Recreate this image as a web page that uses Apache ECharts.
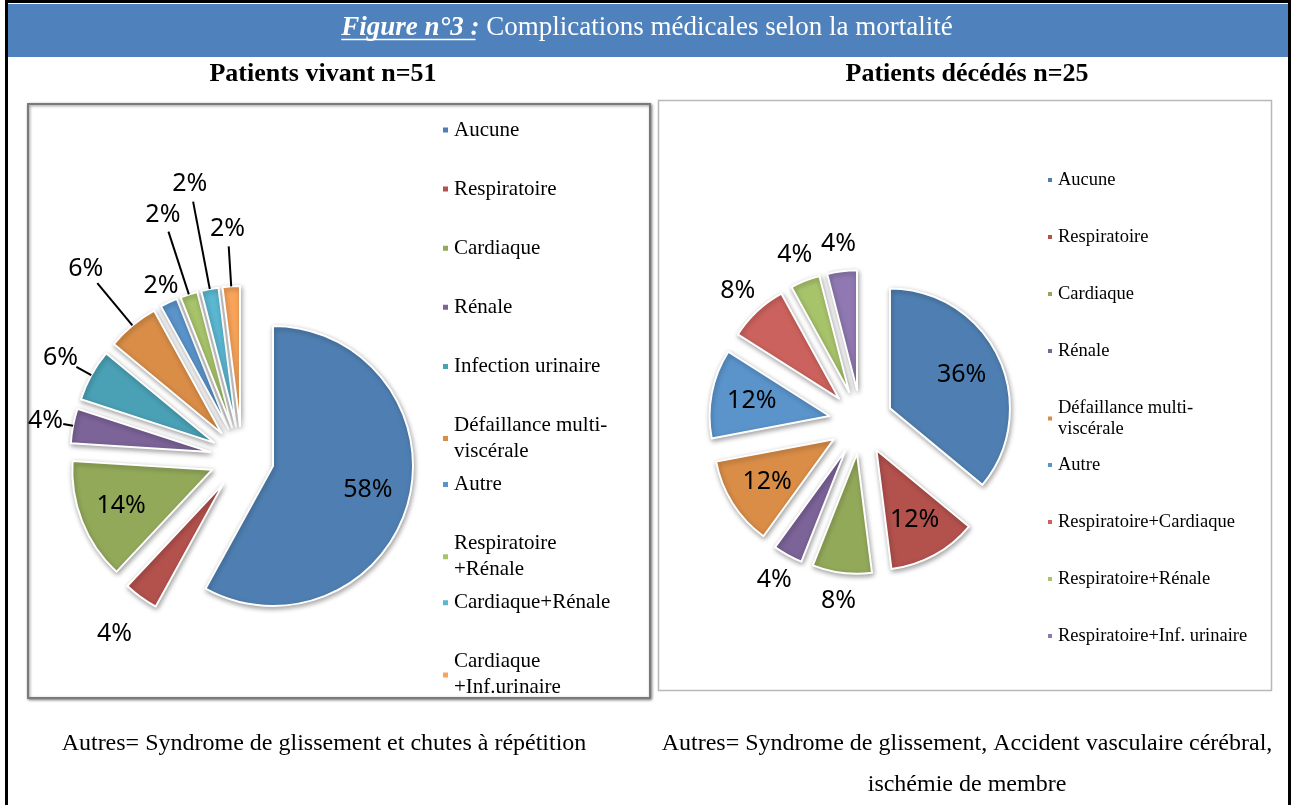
<!DOCTYPE html>
<html>
<head>
<meta charset="utf-8">
<script src="https://cdn.jsdelivr.net/npm/echarts@6/dist/echarts.min.js"></script>
<style>
  html, body { margin: 0; padding: 0; background: #fff; }
  #chart { width: 1294px; height: 805px; }
</style>
</head>
<body>
<div id="chart"></div>
<script>
// données
const leftNames = ['Aucune', 'Respiratoire', 'Cardiaque', 'Rénale', 'Infection urinaire',
  'Défaillance multi-viscérale', 'Autre', 'Respiratoire+Rénale', 'Cardiaque+Rénale', 'Cardiaque+Inf.urinaire'];
const leftValues = [58, 4, 14, 4, 6, 6, 2, 2, 2, 2];

const rightNames = ['Aucune', 'Respiratoire', 'Cardiaque', 'Rénale', 'Défaillance multi-viscérale',
  'Autre', 'Respiratoire+Cardiaque', 'Respiratoire+Rénale', 'Respiratoire+Inf. urinaire'];
const rightValues = [36, 12, 8, 4, 12, 12, 8, 4, 4];

const colorOf = {
  'Aucune': '#4f7fb2',
  'Respiratoire': '#b3514d',
  'Cardiaque': '#93a95a',
  'Rénale': '#7c6398',
  'Infection urinaire': '#4aa0b5',
  'Défaillance multi-viscérale': '#d98d47',
  'Autre': '#5b94cb',
  'Respiratoire+Cardiaque': '#cc625d',
  'Respiratoire+Rénale': '#a8c46b',
  'Cardiaque+Rénale': '#5bb7d2',
  'Cardiaque+Inf.urinaire': '#f9a45a',
  'Respiratoire+Inf. urinaire': '#9079b2'
};

// style des traits de rappel (camembert de gauche) : longueur et présence
const leftLeader = [0, 27, 0, 10, 17, 55, 0, 66, 89, 40];
const leftLeaderShown = [false, false, false, true, true, true, false, true, true, true];

// retours à la ligne des légendes
const leftWrap = {
  'Défaillance multi-viscérale': 'Défaillance multi-\nviscérale',
  'Respiratoire+Rénale': 'Respiratoire\n+Rénale',
  'Cardiaque+Inf.urinaire': 'Cardiaque\n+Inf.urinaire'
};
const rightWrap = {
  'Défaillance multi-viscérale': 'Défaillance multi-\nviscérale'
};

const titleBold = 'Figure n°3 :';
const titleRest = ' Complications médicales selon la mortalité';

const serif = '"Liberation Serif", "Times New Roman", serif';
const labelFont = '25px "Noto Sans", Lato, sans-serif';
const OFFSET = 32;

const LEFT = { center: [242, 458], radius: 140 };
const RIGHT = { center: [861, 422], radius: 120 };

function pieSeries(names, values, geo) {
  return {
    type: 'pie',
    center: geo.center,
    radius: geo.radius,
    startAngle: 90,
    selectedMode: 'multiple',
    selectedOffset: OFFSET,
    label: { show: false },
    labelLine: { show: false },
    itemStyle: {
      borderColor: '#fff', borderWidth: 2,
      shadowBlur: 5, shadowColor: 'rgba(0,0,0,0.35)', shadowOffsetX: 1, shadowOffsetY: 2
    },
    emphasis: { disabled: true },
    data: names.map((n, i) => ({
      name: n, value: values[i], selected: true,
      itemStyle: { color: colorOf[n] }
    }))
  };
}

// étiquettes des pourcentages, posées dans l'axe de chaque part
// via un repère polaire calé sur le camembert (1 unité = 1 px)
function labelSeries(values, geo, polarIndex, inRatio, gapOf, lineOf) {
  let cum = 0;
  const data = values.map((v, i) => {
    const mid = cum + v / 2;
    cum += v;
    return [mid, v, i];
  });
  return {
    type: 'custom',
    coordinateSystem: 'polar',
    polarIndex: polarIndex,
    silent: true,
    z: 5,
    data: data,
    renderItem: function (params, api) {
      const mid = api.value(0), v = api.value(1), i = api.value(2);
      const txt = (p) => ({
        type: 'text', x: p[0], y: p[1],
        style: { text: v + '%', align: 'center', verticalAlign: 'middle', font: labelFont, fill: '#000' }
      });
      if (v >= 10) {
        return txt(api.coord([OFFSET + geo.radius * inRatio, mid]));
      }
      const edge = geo.radius + OFFSET;
      const gap = gapOf(i);
      const p0 = api.coord([edge, mid]);
      const p1 = api.coord([edge + gap, mid]);
      const children = [txt(api.coord([edge + gap + 18, mid]))];
      if (lineOf(i)) {
        children.push({
          type: 'line',
          shape: { x1: p0[0], y1: p0[1], x2: p1[0], y2: p1[1] },
          style: { stroke: '#000', lineWidth: 2 }
        });
      }
      return { type: 'group', children: children };
    }
  };
}

// une légende par entrée, pour garder des cases de hauteur fixe
function legendColumn(names, wrap, left, top0, step, fontSize, lh, mark) {
  return names.map((n, i) => ({
    data: [n],
    left: left,
    top: top0 + i * step - lh / 2,
    padding: 0,
    icon: 'rect',
    itemWidth: mark,
    itemHeight: mark,
    selectedMode: false,
    formatter: name => wrap[name] || name,
    textStyle: { fontFamily: serif, fontSize: fontSize, lineHeight: lh, color: '#000' }
  }));
}

// largeur du titre pour placer le soulignement
const ctx = document.createElement('canvas').getContext('2d');
ctx.font = 'italic bold 27px ' + serif;
const wBold = ctx.measureText(titleBold).width;
ctx.font = '27px ' + serif;
const wRest = ctx.measureText(titleRest).width;
const titleX0 = 647 - (wBold + wRest) / 2;

const sum = a => a.reduce((s, v) => s + v, 0);

let myChart = echarts.init(document.getElementById('chart'));

myChart.setOption({
  animation: false,
  backgroundColor: '#fff',
  polar: [
    { center: LEFT.center, radius: 300 },
    { center: RIGHT.center, radius: 300 }
  ],
  angleAxis: [
    { polarIndex: 0, type: 'value', min: 0, max: sum(leftValues), startAngle: 90, clockwise: true, show: false },
    { polarIndex: 1, type: 'value', min: 0, max: sum(rightValues), startAngle: 90, clockwise: true, show: false }
  ],
  radiusAxis: [
    { polarIndex: 0, type: 'value', min: 0, max: 300, show: false },
    { polarIndex: 1, type: 'value', min: 0, max: 300, show: false }
  ],
  legend: []
    .concat(legendColumn(leftNames, leftWrap, 441, 130, 59.1, 21, 26, 7))
    .concat(legendColumn(rightNames, rightWrap, 1046, 180, 57, 18.5, 21, 6)),
  graphic: [
    // cadre noir
    { type: 'rect', z: -10, shape: { x: 6.5, y: 1.5, width: 1283, height: 840 },
      style: { fill: '#fff', stroke: '#000', lineWidth: 3 } },
    // bandeau du titre
    { type: 'rect', z: -9, shape: { x: 8, y: 4, width: 1280, height: 53 },
      style: { fill: '#4f81bd' } },
    { type: 'text', x: titleX0, y: 28, z: 5,
      style: {
        text: '{a|' + titleBold + '}{b|' + titleRest + '}',
        align: 'left', verticalAlign: 'middle',
        rich: {
          a: { fontFamily: serif, fontSize: 27, fontStyle: 'italic', fontWeight: 'bold', fill: '#fff' },
          b: { fontFamily: serif, fontSize: 27, fontWeight: 'normal', fill: '#fff' }
        }
      } },
    { type: 'line', z: 5, shape: { x1: titleX0, y1: 39.5, x2: titleX0 + wBold - 4, y2: 39.5 },
      style: { stroke: '#fff', lineWidth: 1.5 } },
    // sous-titres
    { type: 'text', x: 323, y: 74, z: 5,
      style: { text: 'Patients vivant n=51', align: 'center', verticalAlign: 'middle',
        font: 'bold 26px ' + serif, fill: '#000' } },
    { type: 'text', x: 967, y: 74, z: 5,
      style: { text: 'Patients décédés n=25', align: 'center', verticalAlign: 'middle',
        font: 'bold 26px ' + serif, fill: '#000' } },
    // cadres des graphiques
    { type: 'rect', z: -8, shape: { x: 28, y: 104, width: 622, height: 594 },
      style: { fill: '#fff', stroke: '#7a7a7a', lineWidth: 2,
        shadowBlur: 3, shadowColor: 'rgba(0,0,0,0.45)', shadowOffsetX: 1, shadowOffsetY: 1 } },
    { type: 'rect', z: -8, shape: { x: 658.5, y: 100.5, width: 613, height: 590 },
      style: { fill: '#fff', stroke: '#b8b8b8', lineWidth: 1.5 } },
    // notes
    { type: 'text', x: 324, y: 744, z: 5,
      style: { text: 'Autres= Syndrome de glissement et chutes à répétition', align: 'center',
        verticalAlign: 'middle', font: '24px ' + serif, fill: '#000' } },
    { type: 'text', x: 967, y: 744, z: 5,
      style: { text: 'Autres= Syndrome de glissement, Accident vasculaire cérébral,', align: 'center',
        verticalAlign: 'middle', font: '24px ' + serif, fill: '#000' } },
    { type: 'text', x: 967, y: 785, z: 5,
      style: { text: 'ischémie de membre', align: 'center',
        verticalAlign: 'middle', font: '24px ' + serif, fill: '#000' } }
  ],
  series: [
    pieSeries(leftNames, leftValues, LEFT),
    pieSeries(rightNames, rightValues, RIGHT),
    labelSeries(leftValues, LEFT, 0, 0.7, i => leftLeader[i], i => leftLeaderShown[i]),
    labelSeries(rightValues, RIGHT, 1, 0.66, () => 10, () => false)
  ]
});
</script>
</body>
</html>
